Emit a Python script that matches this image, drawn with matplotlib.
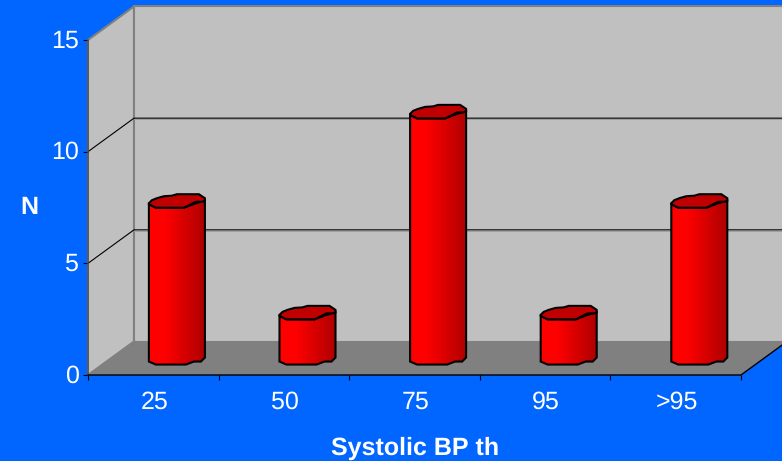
import numpy as np
import matplotlib
matplotlib.use('Agg')
import matplotlib.pyplot as plt
from matplotlib.patches import Polygon
from matplotlib.colors import ListedColormap
from matplotlib.transforms import ScaledTranslation

categories = ['25', '50', '75', '95', '>95']
counts = [7, 2, 11, 2, 7]
y_ticks = [0, 5, 10, 15]
x_title = 'Systolic BP th'
y_title = 'N'

BG = '#0066FF'
W, H = 782, 461
L, R, Y0, Y15 = 88, 741, 375, 40

plt.rcParams['font.family'] = ['Liberation Sans', 'DejaVu Sans']
plt.rcParams['text.hinting'] = 'no_hinting'
plt.rcParams['text.hinting_factor'] = 1
fig = plt.figure(figsize=(W / 100, H / 100), dpi=100, facecolor=BG)
ax = fig.add_axes([L / W, 1 - Y0 / H, (R - L) / W, (Y0 - Y15) / H])
ax.set_xlim(0, len(categories))
ax.set_ylim(0, 15)
ax.patch.set_visible(False)
for s in ax.spines.values():
    s.set_visible(False)

ux = (R - L) / len(categories)
uy = (Y0 - Y15) / 15
dx = 46 / ux
dy = 33.5 / uy


def px(xp, yp):
    return [(x / ux, y / uy) for x, y in zip(xp, yp)]


n = len(categories)
ax.add_patch(Polygon([(0, 0), (dx, dy), (dx, 15 + dy), (0, 15)], fc='#C0C0C0', ec='#808080', lw=1.5, zorder=1, clip_on=False))
ax.add_patch(Polygon([(dx, dy), (n + dx, dy), (n + dx, 15 + dy), (dx, 15 + dy)], fc='#C0C0C0', ec='#808080', lw=1.5, zorder=1, clip_on=False))
ax.add_patch(Polygon([(0, 0), (n, 0), (n + dx, dy), (dx, dy)], fc='#808080', ec='none', zorder=2, clip_on=False))

for v in y_ticks[1:-1]:
    ax.plot([0, dx, n + dx], [v, v + dy, v + dy], color='black', lw=0.8, zorder=2, clip_on=False)
    ax.plot([dx, n + dx], [v + dy - 1.2 / uy] * 2, color='#a0a0a0', lw=0.7, zorder=1.5, clip_on=False)
ax.plot([0, 0], [0, 15], color='#505050', lw=1.1, zorder=3, clip_on=False)
ax.plot([0, n, n + dx], [0, 0, dy], color='black', lw=1.0, zorder=3, clip_on=False)

# faceted cylinder outline, in pixels around the bar axis
top_x = np.array([-28, -25, -20, -13, -5, 0, 22, 28, 28, 25, 19, 14, 7, -21, -28])
top_y = np.array([-2, 1, 3, 5, 5.5, 7, 7, 3, 0.5, -0.5, -0.5, -3, -6.5, -6.5, -3])

shade = np.linspace(0, 1, 20)
tones = np.where(shade < 0.27, 255, 255 - (shade - 0.27) / 0.73 * 78) / 255
cmap = ListedColormap([(t, 0, 0) for t in tones])

for i, v in enumerate(counts):
    cx = i + 0.5 + dx / 2 + 0.6 / ux
    cy = dy / 2 + 0.7 / uy
    h = v * uy
    xs = [-28, -28, -21, 9, 17, 24, 28, 28, 19, 7, -21, -28]
    ys = [h - 3, -4, -7, -7, -4, -4, 0, h + 0.5, h - 2, h - 6.5, h - 6.5, h - 3]
    pts = [(cx + a, cy + b) for a, b in px(xs, ys)]
    im = ax.imshow(shade[None, :], extent=[cx - 28 / ux, cx + 28 / ux, cy - 8 / uy, cy + v + 8 / uy], cmap=cmap, aspect='auto', zorder=5, vmin=0, vmax=1)
    im.set_clip_path(Polygon(pts, closed=True, transform=ax.transData))
    ax.add_patch(Polygon(pts, closed=True, fc='none', ec='black', lw=1.5, zorder=6, clip_on=False))
    ax.add_patch(Polygon([(cx + a, cy + v + b) for a, b in px(top_x, top_y)], closed=True, fc='#C00000', ec='black', lw=1.5, zorder=7, clip_on=False))

ax.set_xlim(0, n)
ax.set_ylim(0, 15)

ax.set_xticks(np.arange(n + 1))
ax.set_xticklabels([])
ax.set_xticks(np.arange(n) + 0.5, minor=True)
ax.set_xticklabels(categories, minor=True)
ax.tick_params(axis='x', which='major', length=3.6, width=0.8, color='black')
ax.tick_params(axis='x', which='minor', length=0, pad=11, labelsize=18.3, labelcolor='white')
ax.set_yticks(y_ticks)
ax.tick_params(axis='y', length=3.6, width=0.8, color='black', labelsize=18.3, labelcolor='white', pad=3)
up = ScaledTranslation(0, 1.5 / 100, fig.dpi_scale_trans)
for t in ax.get_yticklabels():
    t.set_transform(t.get_transform() + up)
right = ScaledTranslation(1 / 100, 0, fig.dpi_scale_trans)
for t in ax.get_xticklabels(minor=True):
    t.set_transform(t.get_transform() + right)

fig.text(415 / W, 1 - 448 / H, x_title, color='white', fontsize=18.3, fontweight='bold', ha='center', va='center')
fig.text(29 / W, 1 - 208 / H, y_title, color='white', fontsize=18.3, fontweight='bold', ha='center', va='center')

fig.savefig('out.png', dpi=100, facecolor=BG)
